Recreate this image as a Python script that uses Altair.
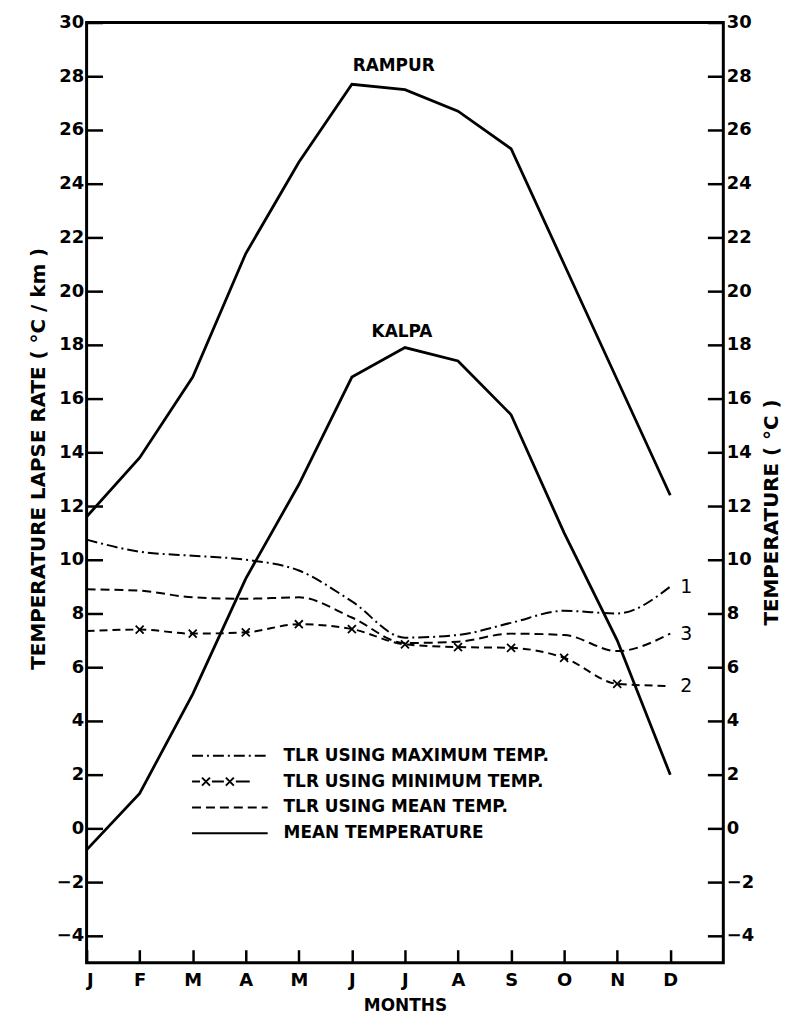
import altair as alt
import pandas as pd

# ---- data ----
months = ["J", "F", "M", "A", "M", "J", "J", "A", "S", "O", "N", "D"]
rampur = [11.6, 13.8, 16.8, 21.4, 24.8, 27.7, 27.5, 26.7, 25.3, 21.0, 16.7, 12.4]
kalpa = [-0.8, 1.3, 5.0, 9.3, 12.8, 16.8, 17.9, 17.4, 15.4, 11.0, 7.0, 2.0]
tlr_max = [10.75, 10.3, 10.15, 10.0, 9.6, 8.45, 7.1, 7.2, 7.65, 8.1, 8.0, 9.0]
tlr_min = [7.35, 7.4, 7.25, 7.3, 7.6, 7.42, 6.85, 6.75, 6.72, 6.35, 5.38, 5.3]
tlr_mean = [8.9, 8.85, 8.6, 8.55, 8.6, 7.85, 6.9, 6.95, 7.25, 7.2, 6.6, 7.25]
series_names = ["TLR USING MAXIMUM TEMP.", "TLR USING MINIMUM TEMP.",
                "TLR USING MEAN TEMP.", "MEAN TEMPERATURE"]
curve_tags = ["1", "2", "3"]
stations = ["RAMPUR", "KALPA"]
y_ticks = list(range(-4, 31, 2))

FONT = "DejaVu Sans"

tlr_rows = []
for tag, name, vals in zip(curve_tags, series_names[:3], [tlr_max, tlr_min, tlr_mean]):
    for i, v in enumerate(vals):
        tlr_rows.append({"m": i, "v": v, "series": name, "tag": tag})
tlr_df = pd.DataFrame(tlr_rows)

temp_rows = []
for st, vals in zip(stations, [rampur, kalpa]):
    for i, v in enumerate(vals):
        temp_rows.append({"m": i, "v": v, "series": series_names[3], "station": st})
temp_df = pd.DataFrame(temp_rows)
all_df = pd.concat([tlr_df[["m", "v", "series"]], temp_df[["m", "v", "series"]]],
                   ignore_index=True)

min_df = tlr_df[(tlr_df["tag"] == "2") & (tlr_df["m"] >= 1) & (tlr_df["m"] <= 10)]
end_df = tlr_df[tlr_df["m"] == len(months) - 1]

def peak(st):
    d = temp_df[temp_df["station"] == st]
    return d.loc[[d["v"].idxmax()]]

# ---- styles ----
dash_max = [11, 4, 2, 4]
dash_min = [8, 5]
dash_mean = [9, 5]

SAMPLE_W = 76.0            # legend sample length in px
SYM = 19.0                 # nominal symbol size (px) used by the legend layout
U = SYM / 2.0              # px per path unit
HALF = SAMPLE_W / 2.0

def seg_path(segs, crosses=()):
    parts = []
    for a, b in segs:
        parts.append(f"M{(a - HALF) / U:.3f},0L{(b - HALF) / U:.3f},0")
    h = 4.0 / U
    for c in crosses:
        cx = (c - HALF) / U
        parts.append(f"M{cx - h:.3f},{-h:.3f}L{cx + h:.3f},{h:.3f}"
                     f"M{cx - h:.3f},{h:.3f}L{cx + h:.3f},{-h:.3f}")
    return "".join(parts)

def dashed(pattern, length):
    segs, pos, k = [], 0.0, 0
    while pos < length:
        d = pattern[k % len(pattern)]
        if k % 2 == 0:
            segs.append((pos, min(pos + d, length)))
        pos += d
        k += 1
    return segs

LEG_MAX = seg_path(dashed(dash_max, SAMPLE_W))
LEG_MIN = seg_path([(0, 8), (20, 32), (44, 58)], crosses=[14, 38])
LEG_MEAN = seg_path(dashed(dash_mean, SAMPLE_W))
LEG_SOLID = seg_path([(0, SAMPLE_W)])
X_PATH = "M-1,-1L1,1M-1,1L1,-1"

legend = alt.Legend(
    orient="none", legendX=105 + HALF - SYM / 2, legendY=736 - SYM / 2,
    direction="vertical", title=None,
    symbolSize=SYM ** 2, symbolStrokeWidth=2, symbolStrokeColor="black",
    symbolOpacity=1, rowPadding=7, labelOffset=HALF + SYM / 2 + 15 - SYM,
    labelFont=FONT, labelFontSize=17, labelFontWeight="bold", labelLimit=600,
    labelColor="black",
)

month_expr = "".join(f"datum.value == {i} ? '{m}' : " for i, m in enumerate(months)) + "''"

x_scale = alt.Scale(domain=[0, 12], nice=False, zero=False)
y_scale = alt.Scale(domain=[-5, 30], nice=False, zero=False)

x_axis = alt.Axis(values=list(range(12)), labelExpr=month_expr, orient="bottom",
                  offset=-13, tickSize=13, tickWidth=2.5, tickColor="black",
                  domain=False, grid=False, labelFont=FONT, labelFontSize=18,
                  labelFontWeight="bold", labelColor="black", labelPadding=9,
                  title="MONTHS", titleFont=FONT, titleFontSize=17,
                  titleFontWeight="bold", titleColor="black", titlePadding=8)

def y_axis(orient, title, title_y, baseline):
    return alt.Axis(orient=orient, values=y_ticks, offset=-16, tickSize=16,
                    tickWidth=2.5, tickColor="black", domain=False, grid=False,
                    labelFont=FONT, labelFontSize=18, labelFontWeight="bold",
                    labelColor="black", labelPadding=3, title=title,
                    titleFont=FONT, titleFontSize=20, titleFontWeight="bold",
                    titleColor="black", titlePadding=8, titleAngle=270,
                    titleBaseline=baseline, titleY=title_y)

X = alt.X("m:Q", scale=x_scale, axis=x_axis)

def y_enc(axis=None):
    return alt.Y("v:Q", scale=y_scale, axis=axis)

def tlr_line(tag, dash, axis=None):
    return alt.Chart(tlr_df[tlr_df["tag"] == tag]).mark_line(
        interpolate="monotone", color="black", strokeWidth=2, strokeDash=dash
    ).encode(x=X, y=y_enc(axis))

line_max = tlr_line("1", dash_max,
                    y_axis("left", "TEMPERATURE LAPSE RATE ( °C / km )", 438, "bottom"))
line_min = tlr_line("2", dash_min)
line_mean = tlr_line("3", dash_mean)

temp_lines = alt.Chart(temp_df).mark_line(color="black", strokeWidth=2.8).encode(
    x=X,
    y=y_enc(y_axis("right", "TEMPERATURE ( °C )", 492, "top")),
    detail="station:N",
)

# invisible points carrying the key (custom line-sample symbols)
shape_scale = alt.Scale(domain=series_names,
                        range=[LEG_MAX, LEG_MIN, LEG_MEAN, LEG_SOLID])
key_points = alt.Chart(all_df).mark_point(filled=False, color="black", opacity=0).encode(
    x=X, y=y_enc(),
    shape=alt.Shape("series:N", scale=shape_scale, legend=legend),
)

markers = alt.Chart(min_df).mark_point(
    shape=X_PATH, size=64, filled=False, color="black", strokeWidth=1.8, opacity=1
).encode(x=X, y=y_enc())

tags = alt.Chart(end_df).mark_text(
    align="left", baseline="middle", dx=10, font=FONT, fontSize=19, color="black"
).encode(x=X, y=y_enc(), text="tag:N")

def station_label(st, dx, dy):
    return alt.Chart(peak(st)).mark_text(
        align="center", baseline="middle", dx=dx, dy=dy, font=FONT,
        fontSize=17, fontWeight="bold", color="black"
    ).encode(x=X, y=y_enc(), text="station:N")

chart = alt.layer(
    line_max, line_min, line_mean, temp_lines, key_points, markers, tags,
    station_label("RAMPUR", 42, -18), station_label("KALPA", -3, -16),
).resolve_axis(y="independent").properties(
    width=640, height=945,
    padding={"left": 20, "top": 3, "right": 2, "bottom": 2},
    background="white",
).configure_view(stroke="black", strokeWidth=3)

chart.save("out.html", embed_options={"renderer": "svg", "actions": False})
